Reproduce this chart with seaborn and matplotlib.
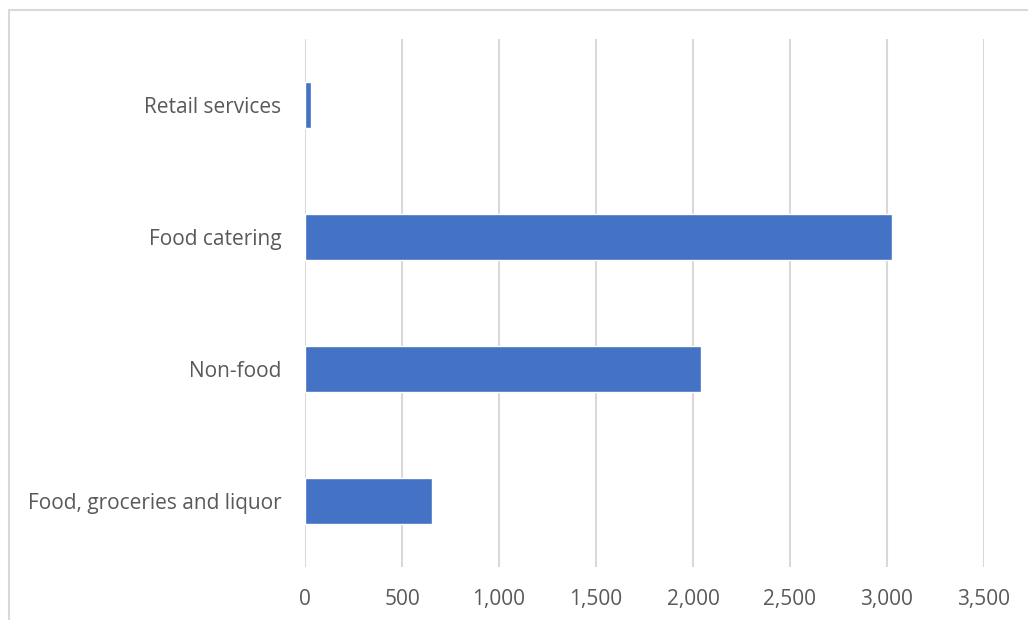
import matplotlib
matplotlib.use("Agg")
import matplotlib.pyplot as plt
import seaborn as sns
import pandas as pd
from matplotlib.lines import Line2D

categories = ["Retail services", "Food catering", "Non-food", "Food, groceries and liquor"]
values = [30, 3025, 2040, 655]
xticks = [0, 500, 1000, 1500, 2000, 2500, 3000, 3500]

sns.set_theme(style="white")
plt.rcParams['font.family'] = ['Open Sans', 'DejaVu Sans']

df = pd.DataFrame({"category": categories, "value": values})

fig = plt.figure(figsize=(10.28, 6.2), dpi=100)
ax = fig.add_axes([305/1028, 53/620, 679/1028, 528/620])

sns.barplot(data=df, y="category", x="value", orient="h", color="#4472C4",
            saturation=1, width=0.35, ax=ax, order=categories)

ax.set_xlim(0, 3500)
ax.set_xticks(xticks)
ax.set_xticklabels([f"{v:,}" for v in xticks])
ax.set_ylim(3.5, -0.5)
ax.set_xlabel("")
ax.set_ylabel("")
ax.grid(axis="x", color="#d9d9d9", linewidth=1.5)
ax.grid(axis="y", visible=False)
ax.set_axisbelow(True)
for s in ax.spines.values():
    s.set_visible(False)
ax.tick_params(axis="x", length=0, pad=16, labelsize=15, labelcolor="#595959")
ax.tick_params(axis="y", length=0, pad=17, labelsize=15, labelcolor="#595959")

fig.add_artist(Line2D([9/1028, 9/1028], [0, 1 - 10/620], transform=fig.transFigure,
                      color="#d9d9d9", linewidth=1.5))
fig.add_artist(Line2D([9/1028, 1], [1 - 10/620, 1 - 10/620], transform=fig.transFigure,
                      color="#d9d9d9", linewidth=1.5))

fig.savefig("out.png", dpi=100)
